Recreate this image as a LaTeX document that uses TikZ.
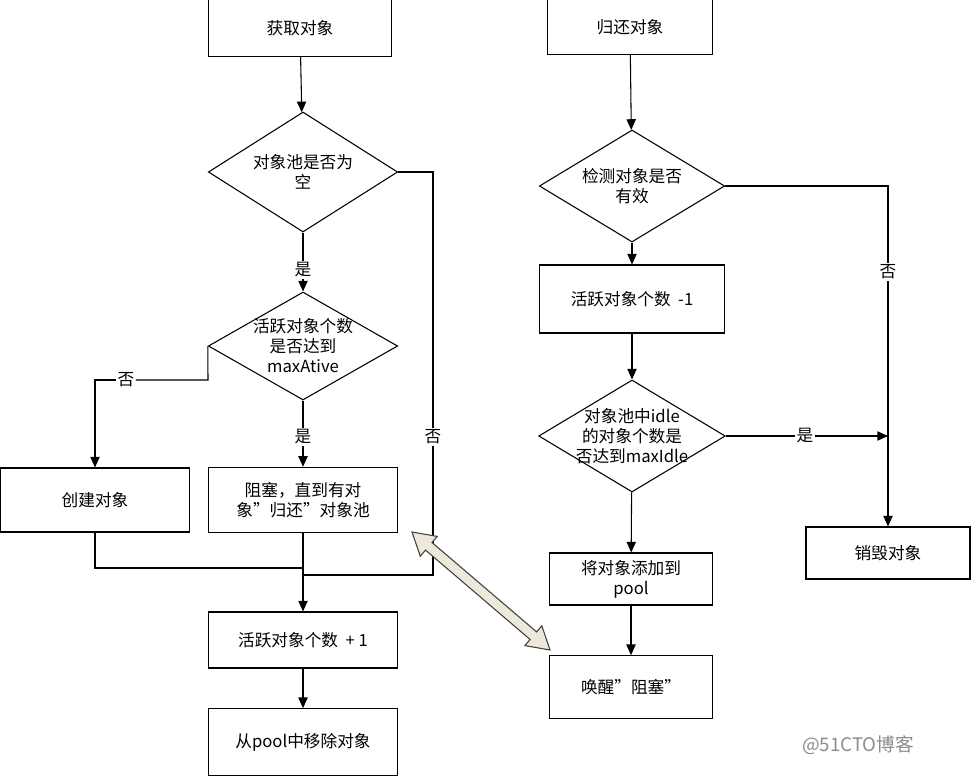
\documentclass[tikz,border=0pt]{standalone}
\usepackage{fontspec}
\setmainfont{Noto Sans CJK SC}
\usetikzlibrary{shapes.geometric,shapes.arrows,arrows.meta}
\begin{document}
\begin{tikzpicture}[x=0.75pt,y=-0.75pt,
  every node/.style={font=\fontsize{12.5pt}{15pt}\selectfont},
  boxn/.style={draw,thick,rectangle,inner sep=0pt,align=center},
  dia/.style={draw,thick,diamond,inner sep=0pt,minimum width=142pt,minimum height=90pt},
  txt/.style={align=center,inner sep=0pt},
  lab/.style={fill=white,inner sep=1pt},
  arr/.style={thick,-{Triangle[length=8pt,width=7pt]}},
  ln/.style={thick}]
\useasboundingbox (0,0) rectangle (974,782);
% left column
\node[boxn,minimum width=137pt,minimum height=43pt] (get) at (300,28) {获取对象};
\node[dia] (d1) at (303,172) {};
\node[txt] (t1) at (303,172) {对象池是否为\\空};
\node[dia,minimum height=81pt] (d2) at (303,346) {};
\node[txt] (t2) at (303,346) {活跃对象个数\\是否达到\\maxAtive};
\node[boxn,minimum width=142pt,minimum height=48pt] (create) at (95,500) {创建对象};
\node[boxn,minimum width=142pt,minimum height=49pt] (block) at (303,500) {阻塞，直到有对\\象”归还”对象池};
\node[boxn,minimum width=142pt,minimum height=42pt] (inc) at (303,640) {活跃对象个数 \ + 1};
\node[boxn,minimum width=142pt,minimum height=50pt] (rm) at (303,742) {从pool中移除对象};
\draw[arr] (get) -- (d1);
\node[lab] (y1) at (303,270) {是};
\draw[ln] (d1.south) -- (y1);
\draw[arr] (y1) -- (d2);
\node[lab] (y2) at (303,437) {是};
\draw[ln] (d2.south) -- (y2);
\draw[arr] (y2) -- (block);
\coordinate (c1) at (208,380);
\node[lab] (n2) at (126,380) {否};
\draw[ln] (d2.west) -- (c1) -- (n2);
\draw[arr] (n2) -| (create.north);
\node[lab] (n1) at (433,437) {否};
\coordinate (c2) at (433,575);
\draw[ln] (d1.east) -| (n1);
\draw[ln] (n1) -- (c2) -- (303,575);
\coordinate (c3) at (303,568);
\draw[ln] (create.south) |- (c3);
\draw[arr] (block) -- (inc);
\draw[arr] (inc) -- (rm);
% right column
\node[boxn,minimum width=124pt,minimum height=41pt] (ret) at (630,27) {归还对象};
\node[dia,minimum width=139pt,minimum height=84pt] (d3) at (632,186) {};
\node[txt] (t3) at (632,186) {检测对象是否\\有效};
\node[boxn,minimum width=139pt,minimum height=51pt] (dec) at (632,299) {活跃对象个数 \ -1};
\node[dia,minimum width=140pt,minimum height=84pt] (d4) at (632,436) {};
\node[txt] (t4) at (632,436) {对象池中idle\\的对象个数是\\否达到maxIdle};
\node[boxn,minimum width=123pt,minimum height=39pt] (destroy) at (888,553) {销毁对象};
\node[boxn,minimum width=122pt,minimum height=39pt] (add) at (631,579) {将对象添加到\\pool};
\node[boxn,minimum width=122pt,minimum height=47pt] (wake) at (631,687) {唤醒”阻塞”};
\draw[arr] (ret) -- (d3);
\draw[arr] (d3) -- (dec);
\draw[arr] (dec) -- (d4);
\node[lab] (n3) at (888,272) {否};
\draw[ln] (d3.east) -| (n3);
\draw[arr] (n3) -- (destroy);
\node[lab] (y3) at (805,436) {是};
\draw[ln] (d4.east) -- (y3);
\draw[arr] (y3) -- (888,436);
\draw[arr] (d4) -- (add);
\draw[arr] (add) -- (wake);
% double arrow
\draw[draw=black!75,thick,line join=miter,fill={rgb,255:red,236;green,232;blue,218}]
  (412,532) -- (420.3,556.2) -- (425.5,550.1) -- (530.1,639.5) -- (524.9,645.6) -- (550,650)
  -- (541.8,625.8) -- (536.6,631.9) -- (432.0,542.5) -- (437.2,536.4) -- cycle;
\node[text=black!45,font=\fontsize{14pt}{16pt}\selectfont] (wm2) at (858,745) {@51CTO博客};
\end{tikzpicture}
\end{document}
